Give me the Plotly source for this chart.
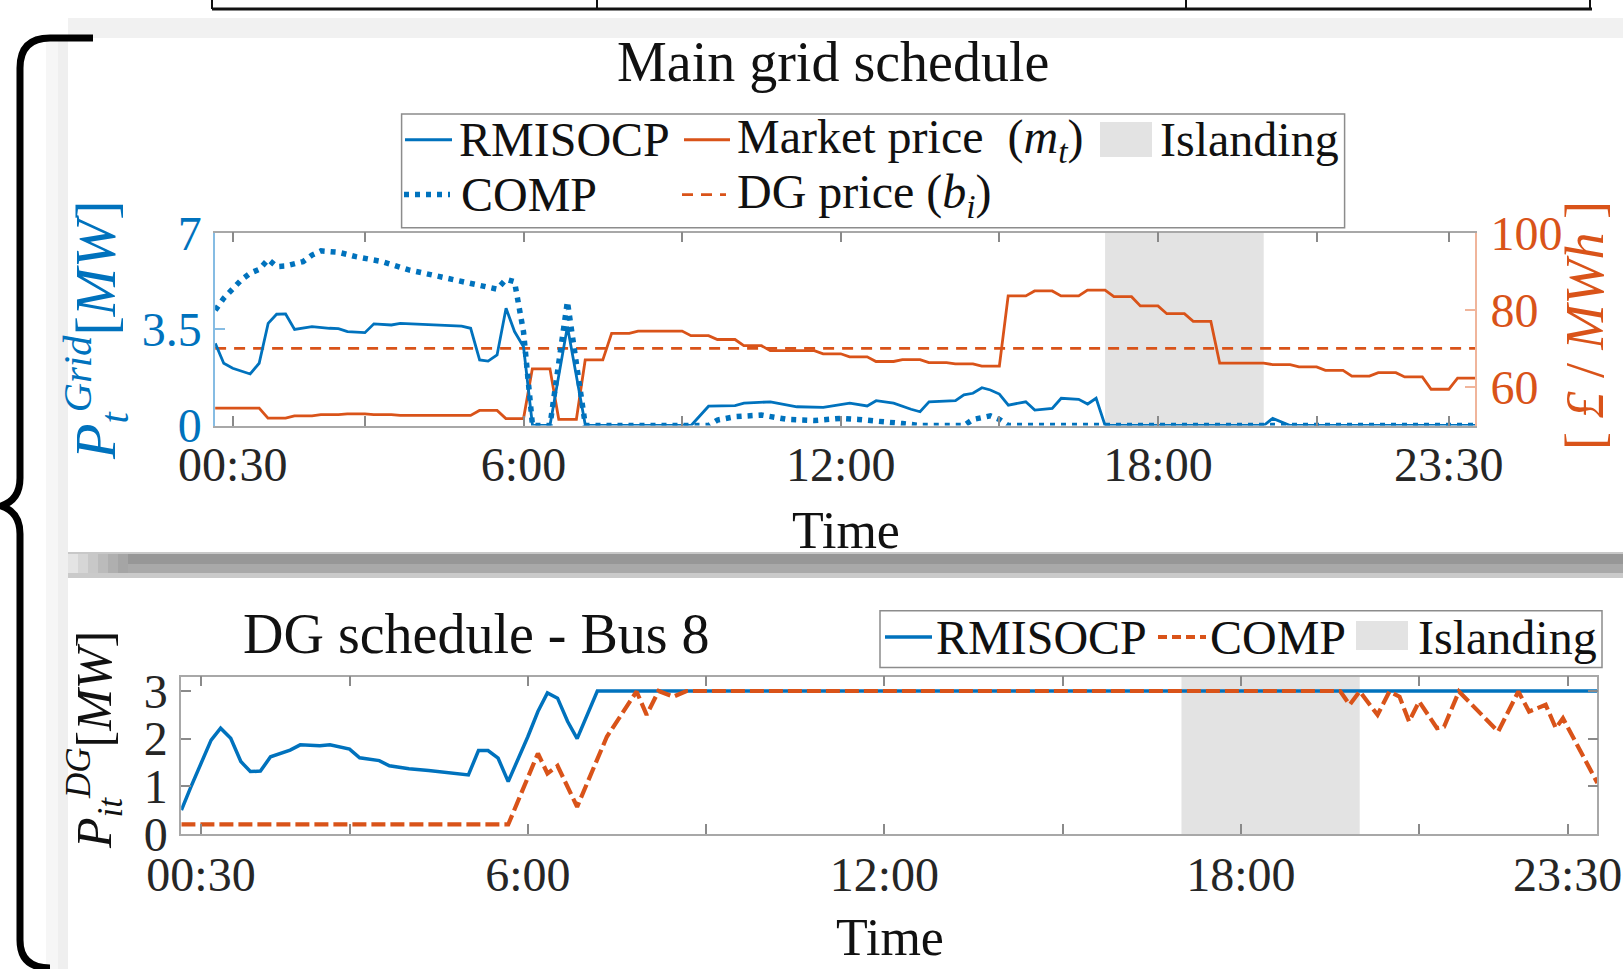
import plotly.graph_objects as go

W, H = 1623, 969
BLUE = '#0072BD'
ORANGE = '#D95319'
SHADE = '#E3E3E3'
FONT = 'Liberation Serif, Times New Roman, serif'

# ------------------------------------------------------------------ data
tick_hours = [0.5, 6, 12, 18, 23.5]
tick_labels = ['00:30', '6:00', '12:00', '18:00', '23:30']
minor_tick_hours = [3, 9, 15, 21]
time_start, time_end = 1 / 6, 24.0
islanding_start, islanding_end = 17.0, 20.0

# Main grid schedule: grid power [MW]
grid_rmisocp_t = [0.17, 0.33, 0.5, 0.83, 1.0, 1.17, 1.33, 1.5, 1.67, 2.0, 2.33, 2.5, 2.67, 3.0, 3.17,
                  3.5, 3.67, 4.33, 4.83, 5.0, 5.17, 5.33, 5.5, 5.67, 5.83, 6.0, 6.17, 6.5, 6.83, 7.17,
                  9.17, 9.5, 10.0, 10.17, 10.67, 11.17, 11.67, 12.17, 12.5, 12.67, 13.0, 13.33, 13.5,
                  13.67, 14.17, 14.33, 14.5, 14.67, 14.83, 15.0, 15.17, 15.5, 15.67, 16.0, 16.17, 16.5,
                  16.67, 16.83, 17.0, 20.0, 20.17, 20.5, 24.0]
grid_rmisocp = [2.98, 2.26, 2.08, 1.87, 2.26, 3.71, 4.04, 4.05, 3.49, 3.59, 3.53, 3.52, 3.41, 3.37, 3.69,
                3.65, 3.71, 3.65, 3.61, 3.53, 2.38, 2.34, 2.56, 4.26, 3.41, 2.86, 0, 0, 3.59, 0,
                0, 0.7, 0.72, 0.81, 0.86, 0.68, 0.66, 0.81, 0.71, 0.9, 0.81, 0.59, 0.5,
                0.86, 0.9, 1.11, 1.17, 1.37, 1.29, 1.14, 0.74, 0.86, 0.56, 0.62, 0.99, 0.95,
                0.78, 0.99, 0, 0, 0.26, 0, 0]

grid_comp_t = [0.17, 0.33, 0.67, 0.83, 1.0, 1.17, 1.33, 1.5, 1.83, 2.0, 2.17, 2.5, 2.83, 3.33, 3.83,
               4.33, 4.83, 5.17, 5.5, 5.67, 5.83, 6.0, 6.17, 6.5, 6.83, 7.17, 9.5, 9.67, 10.0, 10.5,
               11.0, 11.5, 12.0, 12.33, 12.67, 13.17, 13.5, 14.33, 14.5, 14.83, 15.0, 15.17, 24.0]
grid_comp = [4.19, 4.62, 5.3, 5.53, 5.67, 6.03, 5.77, 5.79, 5.95, 6.19, 6.34, 6.29, 6.13, 5.95, 5.65,
             5.43, 5.22, 5.07, 4.95, 5.31, 5.22, 3.4, 0, 0, 4.5, 0, 0, 0.2, 0.32, 0.38,
             0.22, 0.18, 0.26, 0.22, 0.14, 0.07, 0, 0, 0.22, 0.35, 0.22, 0, 0]

# Half-hourly market price [GBP/MWh], each period labelled by its end time
period_end = [0.5, 1.0, 1.5, 2.0, 2.5, 3.0, 3.5, 4.0, 4.5, 5.0, 5.5, 6.0,
              6.5, 7.0, 7.5, 8.0, 8.5, 9.0, 9.5, 10.0, 10.5, 11.0, 11.5, 12.0,
              12.5, 13.0, 13.5, 14.0, 14.5, 15.0, 15.5, 16.0, 16.5, 17.0, 17.5, 18.0,
              18.5, 19.0, 19.5, 20.0, 20.5, 21.0, 21.5, 22.0, 22.5, 23.0, 23.5, 24.0]
market_price = [54.5, 54.5, 51.9, 52.5, 52.8, 53.0, 52.8, 52.6, 52.6, 52.6, 53.9, 51.8,
                64.7, 51.6, 67.0, 73.9, 74.5, 74.5, 73.3, 72.3, 70.7, 69.4, 69.4, 68.6,
                67.8, 66.6, 67.1, 66.3, 66.0, 65.4, 83.6, 84.9, 83.6, 85.1, 83.4, 81.0,
                79.0, 77.0, 66.2, 66.2, 65.8, 65.2, 64.3, 62.8, 63.7, 62.6, 59.4, 62.3]
dg_price = 70

# DG schedule - Bus 8 [MW]
dg_rmisocp_t = [0.17, 0.33, 0.67, 0.83, 1.0, 1.17, 1.33, 1.5, 1.67, 1.83, 2.0, 2.17, 2.5, 2.67, 2.83,
                3.0, 3.17, 3.5, 3.67, 4.0, 4.33, 4.67, 5.0, 5.17, 5.33, 5.5, 5.67, 6.0, 6.17, 6.33,
                6.5, 6.67, 6.83, 7.17, 24.0]
dg_rmisocp = [0.5, 0.99, 1.97, 2.22, 2.01, 1.52, 1.31, 1.32, 1.62, 1.69, 1.76, 1.87, 1.85, 1.87, 1.83,
              1.78, 1.6, 1.54, 1.43, 1.37, 1.33, 1.29, 1.24, 1.75, 1.75, 1.59, 1.1, 2.04, 2.57, 2.96,
              2.85, 2.36, 2.0, 3.0, 3.0]
dg_comp_t = [0.17, 5.67, 6.17, 6.33, 6.5, 6.83, 7.33, 7.5, 7.83, 8.0, 8.2, 8.45, 8.67, 19.67, 19.83,
             20.0, 20.3, 20.5, 20.67, 20.83, 21.0, 21.3, 21.42, 21.67, 22.33, 22.67, 22.85, 23.13,
             23.3, 23.42, 24.0]
dg_comp = [0.2, 0.2, 1.69, 1.27, 1.43, 0.57, 2.04, 2.36, 2.99, 2.5, 3.0, 2.88, 3.0, 3.0, 2.71,
           2.99, 2.5, 2.99, 2.88, 2.36, 2.78, 2.22, 2.25, 2.99, 2.15, 2.99, 2.57, 2.71,
           2.22, 2.43, 1.07]

# ------------------------------------------------------------------ helpers (pixel -> paper)
def fx(x):
    return x / W


def fy(y):
    return 1 - y / H


def P(x, y):
    return f"{fx(x):.5f},{fy(y):.5f}"


# Price is piecewise constant per half-hour (flat over the last 20 min of each period)
price_x, price_y = [], []
for t_end, p in zip(period_end, market_price):
    price_x += [t_end - 1 / 3, t_end]
    price_y += [p, p]

DASH_DG = '11px,8px'
DOT_COMP = '5px,6px'
DASH_COMP2 = '14px,5px'

fig = go.Figure()

# top chart: price on base axis (right), power overlay (left) so blue is drawn on top
fig.add_trace(go.Scatter(x=price_x, y=price_y, mode='lines', name='Market price',
                         line=dict(color=ORANGE, width=2.8), xaxis='x', yaxis='y', showlegend=False))
fig.add_trace(go.Scatter(x=[time_start, time_end], y=[dg_price, dg_price], mode='lines', name='DG price',
                         line=dict(color=ORANGE, width=2.6, dash=DASH_DG), xaxis='x', yaxis='y',
                         showlegend=False))
fig.add_trace(go.Scatter(x=grid_rmisocp_t, y=grid_rmisocp, mode='lines', name='RMISOCP',
                         line=dict(color=BLUE, width=2.8), xaxis='x', yaxis='y3', showlegend=False))
fig.add_trace(go.Scatter(x=grid_comp_t, y=grid_comp, mode='lines', name='COMP',
                         line=dict(color=BLUE, width=5.5, dash=DOT_COMP), xaxis='x', yaxis='y3',
                         showlegend=False))

# bottom chart
fig.add_trace(go.Scatter(x=dg_rmisocp_t, y=dg_rmisocp, mode='lines', name='RMISOCP',
                         line=dict(color=BLUE, width=3.5), xaxis='x2', yaxis='y2', showlegend=False))
fig.add_trace(go.Scatter(x=dg_comp_t, y=dg_comp, mode='lines', name='COMP',
                         line=dict(color=ORANGE, width=4.2, dash=DASH_COMP2), xaxis='x2', yaxis='y2',
                         showlegend=False))

GRAYLINE = '#A8A8A8'
TICKGRAY = '#8A8A8A'
LBLUE = '#86BCE3'
LORANGE = '#F0B59B'


def xaxis_common(dom, anchor, standoff):
    return dict(domain=dom, range=[time_start, time_end], tickvals=tick_hours, ticktext=tick_labels,
                ticks='inside', ticklen=10, tickwidth=1.5, tickcolor=TICKGRAY,
                minor=dict(tickvals=minor_tick_hours, ticks='inside', ticklen=10, tickwidth=1.5,
                           tickcolor=TICKGRAY, showgrid=False),
                showline=True, linecolor=GRAYLINE, linewidth=1.5, mirror='ticks',
                showgrid=False, zeroline=False, anchor=anchor, ticklabelstandoff=standoff, automargin=False,
                tickfont=dict(family=FONT, size=48, color='#262626'), fixedrange=True)


top_y = [fy(425.5), fy(232.7)]
bot_y = [fy(834.0), fy(676.7)]

fig.update_layout(
    width=W, height=H, margin=dict(l=0, r=0, t=0, b=0, pad=0, autoexpand=False),
    paper_bgcolor='white', plot_bgcolor='rgba(0,0,0,0)',
    showlegend=False,
    xaxis=xaxis_common([fx(215.1), fx(1475.2)], 'y', -4),
    xaxis2=xaxis_common([fx(181.2), fx(1597.4)], 'y2', -2),
    yaxis=dict(domain=top_y, range=[50, 100], tickvals=[60, 80, 100], side='right', anchor='x',
               ticks='inside', ticklen=10, tickwidth=1.5, tickcolor=LORANGE, automargin=False,
               showline=True, linecolor=LORANGE, linewidth=1.5, showgrid=False, zeroline=False,
               ticklabelstandoff=4, tickfont=dict(family=FONT, size=48, color=ORANGE), fixedrange=True),
    yaxis3=dict(range=[0, 7], tickvals=[0, 3.5, 7], ticktext=['0', '3.5', '7'], overlaying='y', side='left',
                anchor='x', ticks='inside', ticklen=10, tickwidth=1.5, tickcolor=LBLUE, automargin=False,
                showline=True, linecolor=LBLUE, linewidth=1.5, showgrid=False, zeroline=False,
                ticklabelstandoff=2, tickfont=dict(family=FONT, size=48, color=BLUE), fixedrange=True),
    yaxis2=dict(domain=bot_y, range=[0, 3.3], tickvals=[0, 1, 2, 3], anchor='x2',
                ticks='inside', ticklen=10, tickwidth=1.5, tickcolor=TICKGRAY, automargin=False,
                showline=True, linecolor=GRAYLINE, linewidth=1.5, mirror='ticks',
                showgrid=False, zeroline=False, ticklabelstandoff=2,
                tickfont=dict(family=FONT, size=48, color='#262626'), fixedrange=True),
)

shapes = []
# islanding shading (data x, full axis height)
shapes.append(dict(type='rect', xref='x', yref='y domain', x0=islanding_start, x1=islanding_end, y0=0, y1=1,
                   fillcolor=SHADE, line=dict(width=0), layer='below'))
shapes.append(dict(type='rect', xref='x2', yref='y2 domain', x0=islanding_start, x1=islanding_end, y0=0, y1=1,
                   fillcolor=SHADE, line=dict(width=0), layer='below'))


def prect(x0, y0, x1, y1, color, layer='below', line=None):
    d = dict(type='rect', xref='paper', yref='paper', x0=fx(x0), x1=fx(x1), y0=fy(y1), y1=fy(y0),
             fillcolor=color, layer=layer, line=line or dict(width=0))
    shapes.append(d)


def pline(x0, y0, x1, y1, color, width, dash='solid', layer='above'):
    shapes.append(dict(type='line', xref='paper', yref='paper', x0=fx(x0), x1=fx(x1), y0=fy(y0), y1=fy(y1),
                       line=dict(color=color, width=width, dash=dash), layer=layer))


# page decorations (slide background)
prect(68, 18, W, 38, '#F1F1F1')
prect(46, 38, 68, H, '#F6F6F6')
prect(58, 38, 68, H, '#EFEFEF')
prect(68, 552, W, 554, '#C8C8C8')
prect(68, 554, W, 564, '#979797')
prect(68, 564, W, 573, '#A9A9A9')
prect(68, 573, W, 578, '#CACACA')
for i, c in enumerate(['#E4E4E4', '#D6D6D6', '#C8C8C8', '#BBBBBB', '#AFAFAF', '#A5A5A5']):
    prect(68 + i * 10, 554, 78 + i * 10, 573, c)
# remnant of table above
pline(212, 9, 1592, 9, '#111111', 3, layer='below')
for xv in [212, 597, 1186, 1590]:
    pline(xv, 0, xv, 9, '#111111', 2, layer='below')
# curly brace
brace = ("M " + P(93, 38) + " L " + P(50, 38) + " Q " + P(20, 38) + " " + P(20, 68) +
         " L " + P(20, 478) + " Q " + P(20, 500) + " " + P(1, 506) +
         " Q " + P(20, 512) + " " + P(20, 534) + " L " + P(20, 940) +
         " Q " + P(20, 968) + " " + P(50, 968))
shapes.append(dict(type='path', xref='paper', yref='paper', path=brace,
                   line=dict(color='black', width=7), layer='above'))

# legend boxes
prect(401.6, 113.9, 1344.6, 227.7, 'white', layer='above', line=dict(color='#8C8C8C', width=1.5))
prect(880, 610.7, 1602, 667.6, 'white', layer='above', line=dict(color='#8C8C8C', width=1.5))

annotations = []


def text(x, y, s, size=48, color='#111111', xanchor='center', angle=0):
    annotations.append(dict(xref='paper', yref='paper', x=fx(x), y=fy(y), text=s, showarrow=False,
                            xanchor=xanchor, yanchor='middle', textangle=angle,
                            font=dict(family=FONT, size=size, color=color)))


# top legend
r1, r2 = 139.7, 194.6
pline(405, r1, 452, r1, BLUE, 3)
text(457, r1, 'RMISOCP', xanchor='left')
pline(684, r1, 730, r1, ORANGE, 3)
text(735, r1, 'Market price&nbsp; (<i>m<sub>t</sub></i>)', xanchor='left')
prect(1100, 122, 1152, 157, SHADE, layer='above')
text(1158, r1, 'Islanding', xanchor='left')
pline(404, r2, 450, r2, BLUE, 5.5, dash=DOT_COMP)
text(459, r2, 'COMP', xanchor='left')
pline(682, r2, 726, r2, ORANGE, 2.6, dash=DASH_DG)
text(735, r2, 'DG price (<i>b<sub>i</sub></i>)', xanchor='left')

# bottom legend
rb = 637
pline(885, rb, 932, rb, BLUE, 3.5)
text(934, rb, 'RMISOCP', xanchor='left')
pline(1158, rb, 1206, rb, ORANGE, 4.2, dash='9px,5px')
text(1208, rb, 'COMP', xanchor='left')
prect(1356, 621, 1408, 650, SHADE, layer='above')
text(1416, rb, 'Islanding', xanchor='left')

# titles and axis titles
text(833, 62, 'Main grid schedule', size=56)
text(846, 530, 'Time', size=52)
text(476, 634, 'DG schedule - Bus 8', size=56)
text(890, 937, 'Time', size=52)
text(96, 330, '<i>P</i><sub><i>t</i></sub><sup><i>Grid</i></sup>[<i>MW</i>]', size=58, color=BLUE, angle=-90)
text(1585, 326, '[ <i>£</i> / <i>MWh</i> ]', size=54, color=ORANGE, angle=-90)
text(94, 740, '<i>P</i><sub><i>it</i></sub><sup><i>DG</i></sup>[<i>MW</i>]', size=50, color='#111111', angle=-90)

fig.update_layout(shapes=shapes, annotations=annotations)

fig.write_html("out.html", config={'displayModeBar': False},
               post_script="document.body.style.margin='0';document.body.style.overflow='hidden';")
